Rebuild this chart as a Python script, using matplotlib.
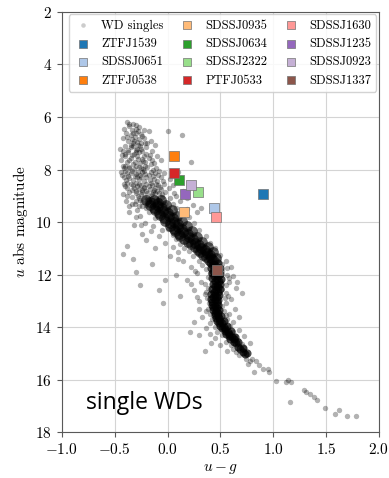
import matplotlib

matplotlib.use("Agg")
import matplotlib.pyplot as plt
import numpy as np

# single white dwarfs (u-g, u abs mag)
upper_cloud = [
    (-0.38, 6.2), (-0.33, 6.25), (-0.36, 6.35), (-0.30, 6.3), (-0.41, 6.45), (-0.27, 6.4),
    (-0.34, 6.5), (-0.22, 6.5), (-0.39, 6.6), (-0.30, 6.6), (-0.25, 6.65), (-0.18, 6.55),
    (0.00, 6.55), (-0.35, 6.7), (-0.42, 6.8), (-0.31, 6.75), (-0.27, 6.85), (-0.22, 6.8),
    (-0.37, 6.9), (-0.16, 6.9), (-0.33, 7.0), (-0.28, 7.05), (-0.40, 7.1), (-0.21, 7.0),
    (-0.12, 7.05), (-0.35, 7.15), (-0.25, 7.2), (-0.30, 7.25), (0.14, 6.7), (-0.45, 7.2),
    (-0.42, 7.3), (-0.37, 7.35), (-0.32, 7.4), (-0.27, 7.35), (-0.20, 7.4), (-0.15, 7.3),
    (-0.40, 7.5), (-0.35, 7.55), (-0.29, 7.5), (-0.24, 7.6), (-0.18, 7.55), (-0.10, 7.5),
    (-0.44, 7.65), (-0.38, 7.7), (-0.31, 7.7), (-0.26, 7.75), (-0.21, 7.7), (-0.13, 7.75),
    (-0.06, 7.65), (0.22, 7.7), (-0.42, 7.85), (-0.36, 7.9), (-0.30, 7.85), (-0.25, 7.95),
    (-0.19, 7.9), (-0.11, 7.95), (-0.40, 8.05), (-0.34, 8.05), (-0.28, 8.1), (-0.22, 8.05),
    (-0.16, 8.1), (-0.08, 8.05), (-0.03, 8.15), (-0.43, 8.2), (-0.37, 8.25), (-0.31, 8.25),
    (-0.26, 8.2), (-0.20, 8.3), (-0.14, 8.25), (-0.06, 8.3), (-0.39, 8.4), (-0.33, 8.4),
    (-0.27, 8.35), (-0.22, 8.45), (-0.17, 8.4), (-0.10, 8.45), (0.02, 8.35), (0.10, 8.1),
    (-0.41, 8.55), (-0.35, 8.55), (-0.30, 8.5), (-0.25, 8.6), (-0.20, 8.55), (-0.15, 8.6),
    (-0.09, 8.6), (-0.03, 8.55), (-0.38, 8.7), (-0.32, 8.7), (-0.27, 8.75), (-0.22, 8.7),
    (-0.17, 8.75), (-0.12, 8.7), (-0.06, 8.75), (0.01, 8.7), (-0.36, 8.85), (-0.30, 8.9),
    (-0.24, 8.85), (-0.19, 8.9), (-0.14, 8.85), (-0.08, 8.9), (-0.02, 8.85), (0.06, 8.9),
    (-0.42, 8.95), (-0.34, 9.05), (-0.28, 9.0), (-0.22, 9.05), (-0.16, 9.0), (-0.11, 9.1),
    (-0.05, 9.05), (0.02, 9.1), (0.12, 9.2), (-0.39, 9.2), (-0.30, 9.2), (-0.24, 9.25),
    (-0.18, 9.2), (-0.13, 9.3), (-0.08, 9.25), (-0.02, 9.3), (0.05, 9.3), (-0.36, 9.4),
    (-0.27, 9.4), (-0.20, 9.45), (-0.10, 9.45), (0.00, 9.5), (0.08, 9.45), (0.18, 9.5),
    (0.28, 9.6), (-0.33, 7.1), (-0.29, 7.2), (-0.24, 7.3), (-0.34, 7.45), (-0.28, 7.6),
    (-0.22, 7.5), (-0.33, 7.8), (-0.27, 7.9), (-0.21, 7.85), (-0.16, 7.8), (-0.35, 8.15),
    (-0.29, 8.3), (-0.24, 8.1), (-0.18, 8.2), (-0.12, 8.15), (-0.33, 8.6), (-0.27, 8.55),
    (-0.22, 8.65), (-0.16, 8.5), (-0.11, 8.55), (-0.30, 8.8), (-0.25, 8.95), (-0.20, 8.8),
    (-0.15, 8.95), (-0.10, 8.8), (-0.05, 8.95), (-0.26, 9.15), (-0.20, 9.35), (-0.14, 9.15),
    (-0.31, 9.3), (-0.36, 7.95), (-0.38, 8.5), (-0.32, 6.9), (-0.37, 7.25), (-0.25, 7.0),
    (-0.30, 6.45), (-0.34, 6.85), (-0.20, 7.15), (-0.40, 7.85), (-0.41, 8.3),
    (-0.36, 6.28), (-0.28, 6.52), (-0.33, 6.62), (-0.24, 6.72), (-0.38, 6.78), (-0.29, 6.95),
    (-0.19, 6.98), (-0.35, 7.05), (-0.26, 7.12), (-0.40, 7.4), (-0.30, 7.32), (-0.17, 7.45),
    (-0.36, 7.62), (-0.23, 7.68), (-0.15, 7.62), (-0.41, 7.95), (-0.32, 7.98), (-0.23, 7.98),
    (-0.14, 8.02), (-0.38, 8.12), (-0.30, 8.18), (-0.21, 8.18), (-0.09, 8.2), (-0.36, 8.32),
    (-0.25, 8.3), (-0.13, 8.35), (-0.40, 8.62), (-0.29, 8.62), (-0.18, 8.62), (-0.07, 8.68),
    (-0.34, 8.78), (-0.24, 8.78), (-0.13, 8.78), (-0.38, 9.0), (-0.27, 9.1), (-0.19, 9.12),
    (-0.08, 9.15), (-0.34, 9.3), (-0.24, 9.38), (-0.15, 9.4), (-0.29, 9.55), (-0.18, 9.6),
    (-0.36, 9.6), (-0.26, 9.78), (-0.12, 9.85), (-0.21, 10.05), (-0.32, 10.1), (-0.14, 10.15),
    (-0.05, 10.3), (-0.24, 10.45), (-0.44, 8.1), (-0.43, 7.45), (-0.12, 8.9), (-0.04, 8.45),
    (0.05, 8.6), (0.08, 9.0), (0.15, 8.8), (0.18, 9.1), (0.24, 9.35), (0.32, 9.45),
]

# dense part of the sequence, upper and lower halves
ridge_upper = [
    (-0.20, 9.15), (-0.17, 9.25), (-0.13, 9.18), (-0.09, 9.26), (-0.06, 9.16),
    (-0.17, 9.35), (-0.13, 9.45), (-0.09, 9.38), (-0.05, 9.46), (-0.01, 9.36),
    (-0.12, 9.55), (-0.08, 9.65), (-0.04, 9.58), (0.00, 9.66), (0.04, 9.56),
    (-0.07, 9.75), (-0.03, 9.85), (0.01, 9.78), (0.05, 9.86), (0.09, 9.76),
    (-0.02, 9.95), (0.02, 10.05), (0.06, 9.98), (0.10, 10.06), (0.14, 9.96),
    (0.02, 10.15), (0.06, 10.25), (0.10, 10.18), (0.14, 10.26), (0.18, 10.16),
    (0.07, 10.35), (0.11, 10.45), (0.15, 10.38), (0.19, 10.46), (0.23, 10.36),
    (0.12, 10.55), (0.16, 10.65), (0.20, 10.58), (0.24, 10.66), (0.28, 10.56),
    (0.19, 10.75), (0.22, 10.85), (0.26, 10.78), (0.30, 10.86), (0.33, 10.76),
    (0.26, 10.95), (0.29, 11.05), (0.32, 10.98), (0.35, 11.06), (0.38, 10.96),
    (0.31, 11.15), (0.34, 11.25), (0.37, 11.18), (0.40, 11.26), (0.43, 11.16),
    (0.36, 11.35), (0.39, 11.45), (0.41, 11.38), (0.43, 11.46), (0.46, 11.36),
]
ridge_lower = [
    (0.40, 11.55), (0.42, 11.65), (0.44, 11.58), (0.46, 11.66), (0.48, 11.56),
    (0.415, 11.75), (0.435, 11.85), (0.455, 11.78), (0.475, 11.86), (0.495, 11.76),
    (0.42, 11.95), (0.44, 12.05), (0.46, 11.98), (0.48, 12.06), (0.50, 11.96),
    (0.425, 12.15), (0.445, 12.25), (0.465, 12.18), (0.485, 12.26), (0.505, 12.16),
    (0.43, 12.35), (0.45, 12.45), (0.465, 12.38), (0.48, 12.46), (0.50, 12.36),
    (0.425, 12.55), (0.44, 12.65), (0.46, 12.58), (0.48, 12.66), (0.495, 12.56),
    (0.415, 12.75), (0.43, 12.85), (0.45, 12.78), (0.47, 12.86), (0.485, 12.76),
    (0.41, 12.95), (0.425, 13.05), (0.445, 12.98), (0.465, 13.06), (0.48, 12.96),
    (0.42, 13.15), (0.435, 13.25), (0.45, 13.18), (0.465, 13.26), (0.48, 13.16),
    (0.43, 13.35), (0.445, 13.45), (0.46, 13.38), (0.475, 13.46), (0.49, 13.36),
    (0.445, 13.55), (0.46, 13.65), (0.475, 13.58), (0.49, 13.66), (0.505, 13.56),
    (0.47, 13.75), (0.485, 13.85), (0.50, 13.78), (0.515, 13.86), (0.53, 13.76),
    (0.50, 13.95), (0.515, 14.05), (0.53, 13.98), (0.545, 14.06), (0.56, 13.96),
    (0.54, 14.15), (0.555, 14.25), (0.57, 14.18), (0.585, 14.26), (0.60, 14.16),
    (0.58, 14.35), (0.595, 14.45), (0.61, 14.38), (0.625, 14.46), (0.64, 14.36),
    (0.63, 14.55), (0.65, 14.62), (0.67, 14.58),
    (0.67, 14.75), (0.69, 14.82), (0.71, 14.78),
    (0.71, 14.95), (0.73, 15.02), (0.75, 14.98),
]

ridge_halo = [
    (-0.30, 9.8), (-0.25, 10.1), (-0.16, 10.35), (-0.08, 10.55), (-0.20, 10.7),
    (-0.02, 10.8), (0.05, 10.95), (-0.12, 11.0), (0.10, 11.15), (0.02, 11.3),
    (-0.38, 10.9), (-0.42, 11.2), (-0.33, 11.4), (-0.26, 12.4), (-0.30, 11.9),
    (0.20, 9.8), (0.25, 10.05), (0.30, 10.3), (0.36, 10.55), (0.40, 10.8),
    (0.45, 11.0), (0.50, 11.25), (0.55, 11.5), (0.60, 11.7), (0.52, 11.85),
    (0.62, 12.05), (0.58, 12.3), (0.65, 12.5), (0.55, 12.7), (0.60, 12.95),
    (0.52, 13.2), (0.58, 13.5), (0.62, 13.8), (0.68, 14.1), (0.72, 14.35),
    (0.78, 14.6), (0.15, 11.5), (0.22, 11.7), (0.28, 11.95), (0.18, 12.2),
    (0.32, 12.3), (0.25, 12.6), (0.35, 12.75), (0.30, 13.0), (0.38, 13.3),
    (0.33, 13.6), (0.40, 13.85), (0.21, 14.2), (0.30, 14.3), (0.35, 14.9),
    (0.41, 14.6), (0.45, 14.4), (0.50, 14.7), (0.56, 14.9), (0.65, 14.95),
    (0.76, 15.4), (0.84, 15.3), (0.87, 15.45), (0.82, 15.7), (0.95, 15.6),
    (0.96, 15.7), (-0.08, 12.6), (-0.04, 13.1), (0.08, 12.0), (0.12, 12.8),
    (0.05, 10.5), (0.25, 10.45), (0.12, 10.85), (0.35, 10.9), (0.20, 11.1),
    (0.42, 11.3), (0.30, 11.5), (0.52, 11.6), (0.36, 11.8), (0.56, 12.0),
    (0.38, 12.1), (0.55, 12.4), (0.38, 12.5), (0.54, 12.9), (0.37, 12.9),
    (0.53, 13.4), (0.40, 13.5), (0.56, 13.7), (0.45, 14.0), (0.62, 14.2),
    (0.52, 14.3), (0.67, 14.5), (0.60, 14.7), (0.72, 14.8),
    (0.00, 10.25), (0.20, 10.25), (0.08, 10.65), (0.30, 10.65), (0.16, 11.0),
    (0.40, 11.05), (0.24, 11.3), (0.47, 11.45), (0.33, 11.65), (0.56, 11.75),
    (0.40, 11.95), (0.58, 12.15), (0.35, 12.35), (0.52, 12.55), (0.36, 12.65),
    (0.57, 12.8), (0.39, 13.1), (0.55, 13.1), (0.36, 13.4), (0.55, 13.55),
    (0.42, 13.7), (0.59, 13.95), (0.47, 14.2), (0.64, 14.35), (0.55, 14.55),
    (0.70, 14.65), (0.62, 14.85), (0.68, 15.05), (0.74, 15.2), (0.78, 15.3),
    (0.10, 11.4), (0.26, 11.85), (0.22, 12.35), (0.28, 12.85), (0.30, 13.3),
    (0.25, 13.8), (0.36, 14.05), (0.40, 14.25), (-0.15, 11.6), (-0.02, 12.2),
    (0.66, 12.3), (0.70, 12.7), (0.64, 13.3), (0.68, 13.6),
    (1.03, 16.05), (1.12, 16.1), (1.14, 16.0), (1.17, 16.1), (1.16, 16.85),
    (1.29, 16.4), (1.31, 16.48), (1.35, 16.55), (1.39, 16.65), (1.41, 16.78),
    (1.49, 17.1), (1.58, 17.3), (1.62, 17.16), (1.70, 17.4), (1.78, 17.38),
    (0.80, 15.2), (0.90, 15.6),
]

# binaries
names = ["ZTFJ1539", "SDSSJ0651", "ZTFJ0538", "SDSSJ0935", "SDSSJ0634", "SDSSJ2322",
         "PTFJ0533", "SDSSJ1630", "SDSSJ1235", "SDSSJ0923", "SDSSJ1337"]
u_g = [0.90, 0.44, 0.06, 0.16, 0.11, 0.29, 0.057, 0.46, 0.17, 0.22, 0.47]
u_abs = [8.93, 9.48, 7.47, 9.63, 8.40, 8.85, 8.12, 9.81, 8.95, 8.58, 11.83]
colors = ["#1f77b4", "#aec7e8", "#ff7f0e", "#ffbb78", "#2ca02c", "#98df8a",
          "#d62728", "#ff9896", "#9467bd", "#c5b0d5", "#8c564b"]

plt.rcParams["font.family"] = "serif"
plt.rcParams["font.serif"] = ["cmr10"]
plt.rcParams["mathtext.fontset"] = "cm"
plt.rcParams["axes.formatter.use_mathtext"] = True
plt.rcParams["axes.unicode_minus"] = True

fig = plt.figure(figsize=(3.89, 4.78), dpi=100)
ax = fig.add_axes([0.159, 0.096, 0.815, 0.879])

up = np.array(upper_cloud)
r_up = np.array(ridge_upper)
r_lo = np.array(ridge_lower)
halo = np.array(ridge_halo)
ax.scatter(r_up[:, 0], r_up[:, 1], s=60, color="k", alpha=0.6, lw=0, zorder=2)
ax.scatter(r_lo[:, 0], r_lo[:, 1], s=34, color="k", alpha=0.7, lw=0, zorder=2)
ax.scatter(up[:, 0], up[:, 1], s=15, color="k", alpha=0.32, lw=0, zorder=2,
           label="WD singles")
ax.scatter(halo[:, 0], halo[:, 1], s=15, color="k", alpha=0.3, lw=0, zorder=2)

for name, x, y, c in zip(names, u_g, u_abs, colors):
    ax.scatter(x, y, s=42, marker="s", color=c, edgecolor="0.45", lw=0.5,
               zorder=4, label=name)

ax.set_xlim(-1.0, 2.0)
ax.set_ylim(18, 2)
ax.set_xticks(np.arange(-1.0, 2.01, 0.5))
ax.set_yticks(np.arange(2, 18.1, 2))
ax.grid(True, color="#d4d4d4", lw=0.8, zorder=0)
ax.set_axisbelow(True)
for sp in ax.spines.values():
    sp.set_color("0.35")
ax.tick_params(labelsize=11, color="0.35", length=3.5)
ax.set_xlabel("$u-g$", fontsize=11)
ax.set_ylabel("$u$ abs magnitude", fontsize=11)

leg = ax.legend(loc="upper right", ncol=3, fontsize=9, borderaxespad=0.2,
                columnspacing=1.15, handletextpad=0.8, handlelength=1.4,
                labelspacing=0.5, framealpha=0.85, edgecolor="0.8",
                markerscale=0.85)
leg.legend_handles[0].set_alpha(0.2)

ax.text(-0.77, 16.9, "single WDs", fontsize=16.5, family="Open Sans", va="center",
        ha="left", color="k")

fig.savefig("out.png", dpi=100)
